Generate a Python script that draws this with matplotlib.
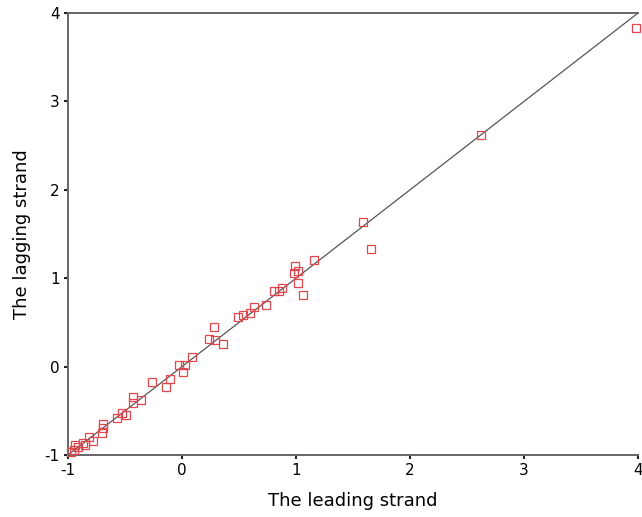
import numpy as np
import matplotlib
matplotlib.use("Agg")
import matplotlib.pyplot as plt

plt.rcParams['axes.unicode_minus'] = False

# values
leading = [3.98, 2.62, 1.59, 1.66, 1.16, 0.99, 1.02, 0.98, 1.02, 1.06,
           0.88, 0.85, 0.81, 0.74, 0.63, 0.60, 0.53, 0.49, 0.28, 0.24,
           0.29, 0.36, 0.09, -0.03, 0.03, 0.01, -0.11, -0.14, -0.26, -0.43,
           -0.36, -0.43, -0.53, -0.49, -0.57, -0.69, -0.69, -0.70, -0.82, -0.78,
           -0.87, -0.85, -0.94, -0.95, -0.91, -0.97]
lagging = [3.83, 2.62, 1.63, 1.33, 1.21, 1.14, 1.08, 1.06, 0.94, 0.81,
           0.89, 0.85, 0.85, 0.70, 0.67, 0.61, 0.58, 0.56, 0.45, 0.31,
           0.30, 0.26, 0.11, 0.02, 0.02, -0.06, -0.14, -0.23, -0.18, -0.34,
           -0.38, -0.41, -0.53, -0.55, -0.58, -0.65, -0.69, -0.75, -0.80, -0.84,
           -0.86, -0.89, -0.89, -0.94, -0.91, -0.97]
ticks = [-1, 0, 1, 2, 3, 4]
lims = [-1, 4]

fig = plt.figure(figsize=(6.42, 5.17), dpi=100)
ax = fig.add_axes([0.106, 0.12, 0.888, 0.855])

# reference line y = x
ax.plot(lims, lims, color='#555555', lw=0.9, zorder=2)
ax.plot(leading, lagging, linestyle='none', marker='s', ms=5.5,
        mfc='none', mec='#e0464e', mew=0.9, zorder=3, clip_on=False)

ax.set_xlim(lims)
ax.set_ylim(lims)
ax.set_xticks(ticks)
ax.set_yticks(ticks)
ax.tick_params(direction='out', length=3, width=1.5, color='#222222',
               labelsize=11, pad=3)

for side in ['left', 'bottom', 'top']:
    ax.spines[side].set_color('#666666')
    ax.spines[side].set_linewidth(1.4)
ax.spines['right'].set_visible(False)

ax.set_xlabel('The leading strand', fontsize=13, labelpad=10)
ax.set_ylabel('The lagging strand', fontsize=13, labelpad=10)

fig.savefig('out.png', dpi=100)
